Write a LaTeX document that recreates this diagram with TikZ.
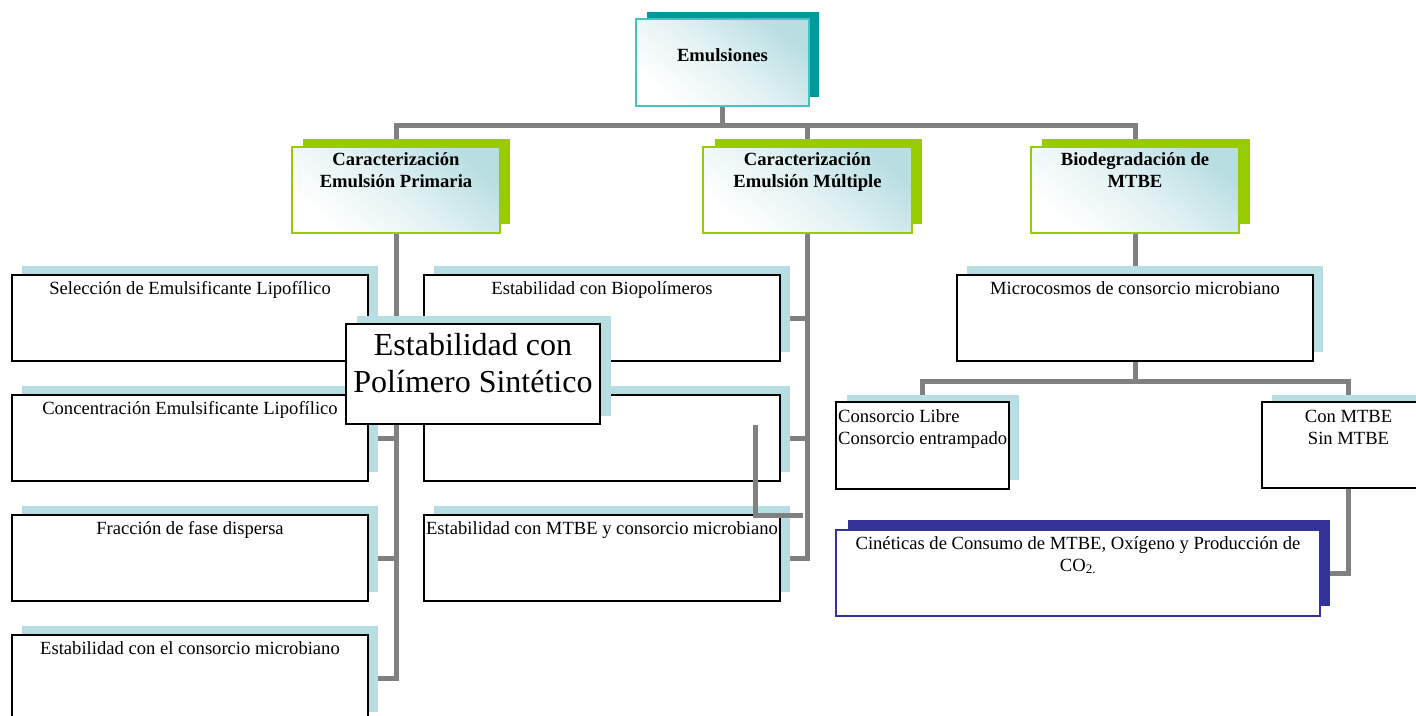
\documentclass[tikz,border=0pt]{standalone}
\usepackage{fontspec}
\setmainfont{Liberation Serif}
\pgfdeclarelayer{bg}
\pgfsetlayers{bg,main}
\definecolor{cgray}{RGB}{128,128,128}
\definecolor{tealsh}{RGB}{0,153,153}
\definecolor{tealbd}{RGB}{64,196,196}
\definecolor{grn}{RGB}{153,204,0}
\definecolor{hdrc}{RGB}{184,222,226}
\definecolor{lblue}{RGB}{183,222,226}
\definecolor{navy}{RGB}{51,51,153}
\tikzset{
  conn/.style={draw=cgray, line width=5pt},
  sh/.style={fill=#1, draw=none, inner sep=0pt, outer sep=0pt, anchor=north west},
  plainbox/.style={draw=#1, line width=1.5pt, fill=white, inner sep=0pt, outer sep=0pt, anchor=north west},
  hdrbox/.style={draw=#1, line width=1.6pt, top color=hdrc, bottom color=white, middle color=hdrc!40!white, shading angle=-40, inner sep=0pt, outer sep=0pt, anchor=north west},
  txt/.style={font=\fontsize{18.6}{22}\selectfont, align=center, inner sep=0pt, anchor=north},
  btxt/.style={txt, font=\fontsize{18.6}{22}\selectfont\bfseries},
  bigtxt/.style={font=\fontsize{32}{37}\selectfont, align=center, inner sep=0pt, anchor=north},
  wA/.style={minimum width=356pt, minimum height=86pt},
}
\begin{document}
\begin{tikzpicture}[x=1pt,y=-1pt]
\useasboundingbox (0,0) rectangle (1416,715);
\clip (0,0) rectangle (1416,715);

% ---- header boxes
\node[sh=tealsh, minimum width=172pt, minimum height=85pt] (emuls) at (647,12) {};
\node[hdrbox=tealbd, minimum width=173pt, minimum height=87pt] (emul) at (636,19) {};
\node[sh=grn, minimum width=207pt, minimum height=85pt] (prims) at (303,139) {};
\node[hdrbox=grn, minimum width=208pt, minimum height=86pt] (prim) at (292,147) {};
\node[sh=grn, minimum width=207pt, minimum height=85pt] (mults) at (715,139) {};
\node[hdrbox=grn, minimum width=209pt, minimum height=86pt] (mult) at (703,147) {};
\node[sh=grn, minimum width=208pt, minimum height=85pt] (bios) at (1042,139) {};
\node[hdrbox=grn, minimum width=208pt, minimum height=86pt] (bio) at (1031,147) {};

% ---- left column
\node[sh=lblue, wA] (l1s) at (22,266) {};
\node[plainbox=black, wA] (l1) at (12,275) {};
\node[sh=lblue, wA] (l2s) at (22,386) {};
\node[plainbox=black, wA] (l2) at (12,395) {};
\node[sh=lblue, wA] (l3s) at (22,506) {};
\node[plainbox=black, wA] (l3) at (12,515) {};
\node[sh=lblue, wA] (l4s) at (22,626) {};
\node[plainbox=black, wA] (l4) at (12,635) {};

% ---- middle column
\node[sh=lblue, wA] (m1s) at (434,266) {};
\node[plainbox=black, wA] (m1) at (424,275) {};
\node[sh=lblue, wA] (m2s) at (434,386) {};
\node[plainbox=black, wA] (m2) at (424,395) {};
\node[sh=lblue, wA] (m3s) at (434,506) {};
\node[plainbox=black, wA] (m3) at (424,515) {};

% ---- right column
\node[sh=lblue, wA] (micros) at (967,266) {};
\node[plainbox=black, wA] (micro) at (957,275) {};
\node[sh=lblue, minimum width=172pt, minimum height=85pt] (conss) at (847,395) {};
\node[plainbox=black, minimum width=173pt, minimum height=87pt] (cons) at (836,402) {};
\node[sh=lblue, minimum width=173pt, minimum height=85pt] (cons2s) at (1272,395) {};
\node[plainbox=black, minimum width=173pt, minimum height=86pt] (con) at (1262,402) {};
\node[sh=navy, minimum width=482pt, minimum height=86pt] (cins) at (848,520) {};
\node[plainbox=navy, minimum width=484pt, minimum height=86pt] (cin) at (836,530) {};

% ---- connectors (behind boxes)
\begin{pgfonlayer}{bg}
\path (emul.south) ++(0,19) coordinate (hub);
\path (micro.south) ++(0,20) coordinate (hub2);
\draw[conn] (emul.south) -- (hub);
\draw[conn] (prim.north) |- (hub) -| (bio.north);
\draw[conn] (mult.north) -- (mult.north |- hub);
\draw[conn] (prim.south) |- (l4s.east |- l4.east);
\draw[conn] (l1s.east |- l1.east) -- (prim.south |- l1.east);
\draw[conn] (l2s.east |- l2.east) -- (prim.south |- l2.east);
\draw[conn] (l3s.east |- l3.east) -- (prim.south |- l3.east);
\draw[conn] (mult.south) |- (m3s.east |- m3.east);
\draw[conn] (m1s.east |- m1.east) -- (mult.south |- m1.east);
\draw[conn] (m2s.east |- m2.east) -- (mult.south |- m2.east);
\draw[conn] (bio.south) -- (micro.north);
\draw[conn] (micro.south) -- (hub2);
\draw[conn] (cons.north) |- (hub2) -| (con.north);
\draw[conn] (con.south) |- (cins.east |- cin.east);
\end{pgfonlayer}

% ---- stray connector
\coordinate (s1) at (755,425);
\coordinate (s2) at (803,515);
\draw[conn] (s1) |- (s2);

% ---- overlay box
\node[sh=lblue, minimum width=254pt, minimum height=100pt] (bigs) at (357,316) {};
\node[plainbox=black, minimum width=254pt, minimum height=100pt] (big) at (346,324) {};

% ---- texts
\node[btxt, yshift=-26.6pt] (t0) at (emul.north) {\strut Emulsiones};
\node[btxt, yshift=-3.3pt] (t1) at (prim.north) {\strut Caracterización\\Emulsión Primaria};
\node[btxt, yshift=-3.3pt] (t2) at (mult.north) {\strut Caracterización\\Emulsión Múltiple};
\node[btxt, yshift=-3.3pt] (t3) at (bio.north) {\strut Biodegradación de\\MTBE};

\node[txt, yshift=-3.6pt] (tl1) at (l1.north) {\strut Selección de Emulsificante Lipofílico};
\node[txt, yshift=-3.6pt] (tl2) at (l2.north) {\strut Concentración Emulsificante Lipofílico};
\node[txt, yshift=-3.6pt] (tl3) at (l3.north) {\strut Fracción de fase dispersa};
\node[txt, yshift=-3.6pt] (tl4) at (l4.north) {\strut Estabilidad con el consorcio microbiano};

\node[txt, yshift=-3.6pt] (tm1) at (m1.north) {\strut Estabilidad con Biopolímeros};
\node[txt, yshift=-3.6pt] (tm3) at (m3.north) {\strut Estabilidad con MTBE y consorcio microbiano};

\node[txt, yshift=-3.6pt] (tr1) at (micro.north) {\strut Microcosmos de consorcio microbiano};
\node[txt, align=left, anchor=north west, xshift=2pt, yshift=-4.6pt] (tr2) at (cons.north west) {\strut Consorcio Libre\\Consorcio entrampado};
\node[txt, yshift=-4.6pt] (tr3) at (con.north) {\strut Con MTBE\\Sin MTBE};
\node[txt, yshift=-3.6pt] (tr4) at (cin.north) {\strut Cinéticas de Consumo de MTBE, Oxígeno y Producción de\\CO\textsubscript{2.}};

\node[bigtxt, yshift=-5.5pt] (tbig) at (big.north) {\strut Estabilidad con\\Polímero Sintético};
\end{tikzpicture}
\end{document}
